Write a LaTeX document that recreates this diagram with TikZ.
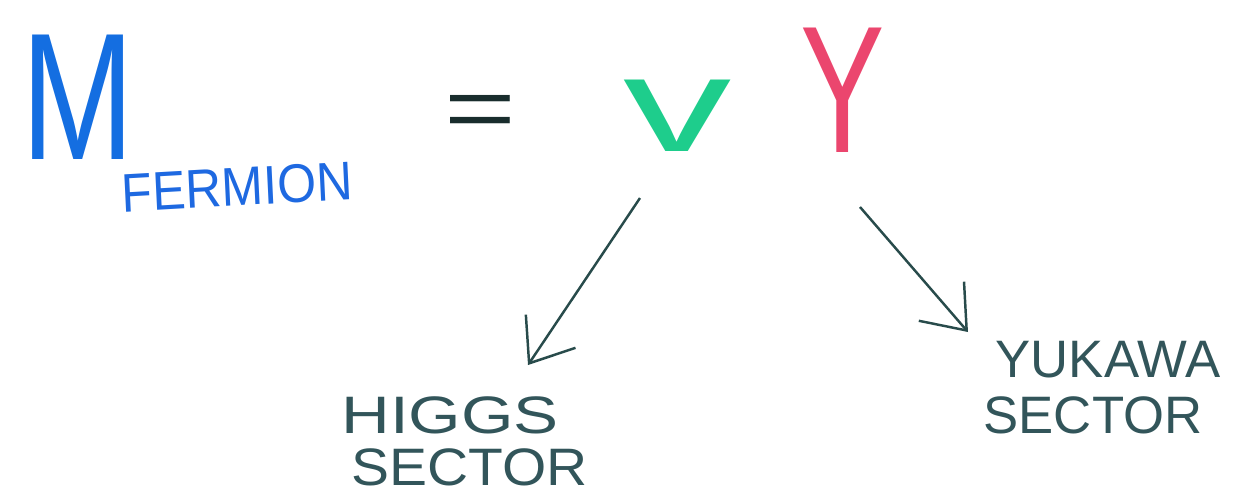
\documentclass[tikz,border=0pt]{standalone}
\usepackage{fontspec}
\setmainfont{Liberation Sans}
\usetikzlibrary{arrows.meta}
\definecolor{mblue}{RGB}{20,110,225}
\definecolor{fblue}{RGB}{30,105,225}
\definecolor{eqdark}{RGB}{25,45,45}
\definecolor{vgreen}{RGB}{30,205,140}
\definecolor{yred}{RGB}{235,70,110}
\definecolor{ink}{RGB}{40,75,75}
\definecolor{labink}{RGB}{50,85,90}
\tikzset{
  px/.style={x=0.02cm,y=-0.02cm},
  lab/.style={inner sep=0pt,font=\fontsize{30}{30}\selectfont,text=labink},
  arr/.style={draw=ink,line width=1.4pt,-{Straight Barb[length=22pt,width=34pt,line width=1.4pt]}}
}
\begin{document}
\begin{tikzpicture}[px]
\useasboundingbox (0,0) rectangle (1238,495);
\node[inner sep=0pt,text=mblue,font=\fontsize{103}{103}\selectfont,xscale=0.75] (M) at (78,97) {M};
\node[inner sep=0pt,text=fblue,font=\fontsize{31}{31}\selectfont,xscale=0.92,rotate=3] (F) at (237,187) {FERMION};
\node[inner sep=0pt,text=eqdark,font=\fontsize{50}{50}\selectfont,xscale=1.4] (eq) at (480,117) {=};
\node[inner sep=0pt,text=vgreen,font=\fontsize{77}{77}\selectfont,xscale=1.6] (v) at (678,116) {v};
\node[inner sep=0pt,text=yred,font=\fontsize{103}{103}\selectfont,xscale=0.7] (Y) at (843,90) {Y};
\node[lab,xscale=1.28] (higgs) at (450,415) {HIGGS};
\node[lab,xscale=1.08] (hsec) at (470,467) {SECTOR};
\node[lab] (yuk) at (1108,360) {YUKAWA};
\node[lab] (ysec) at (1093,415) {SECTOR};
\coordinate (a1s) at (640,198);
\coordinate (a1e) at (528,365);
\coordinate (a2s) at (860,207);
\coordinate (a2e) at (968,332);
\draw[arr] (a1s) -- (a1e);
\draw[arr] (a2s) -- (a2e);
\end{tikzpicture}
\end{document}
